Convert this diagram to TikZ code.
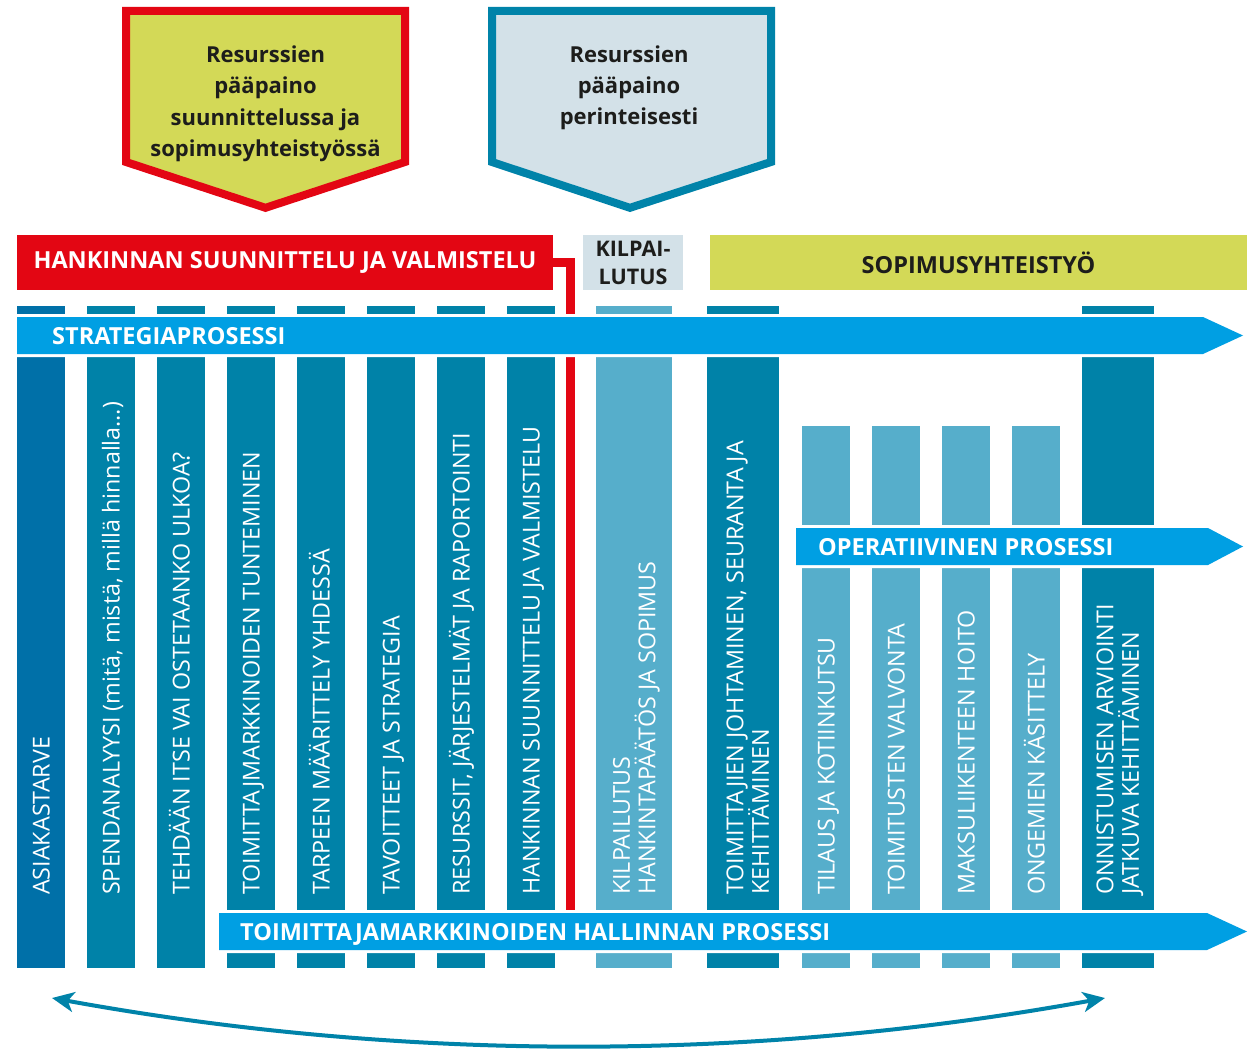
\documentclass[tikz,border=0pt]{standalone}
\usepackage{fontspec}
\setmainfont{Open Sans}
\usetikzlibrary{arrows.meta}
\definecolor{tred}{HTML}{E30613}
\definecolor{tlime}{HTML}{D3D957}
\definecolor{tpale}{HTML}{D3E1E8}
\definecolor{tborder}{HTML}{0083A9}
\definecolor{tdark}{HTML}{0082A8}
\definecolor{tdarker}{HTML}{0070A8}
\definecolor{tlight}{HTML}{56AECB}
\definecolor{tarrow}{HTML}{009FE3}
\definecolor{tink}{HTML}{1D1D1B}
\begin{document}
\begin{tikzpicture}[x=1pt,y=-1pt,
  bar/.style={inner sep=0pt, outer sep=0pt, anchor=north west, draw=none},
  coltext/.style={text=white, font=\fontsize{23.3}{25.5}\selectfont, inner sep=0pt, rotate=90, align=left},
  headtext/.style={font=\bfseries\fontsize{23.5}{28}\selectfont},
  arrowtext/.style={text=white, font=\bfseries\fontsize{23.5}{28}\selectfont, inner sep=0pt, anchor=base west},
  procarrow/.style={fill=tarrow, preaction={draw=white, line width=6pt, line join=miter}},
  pent/.style={line width=8pt, line join=miter},
  penttext/.style={text=tink, font=\bfseries\fontsize{22}{31.5}\selectfont, align=center, inner sep=0pt},
]
\useasboundingbox (0,0) rectangle (1252,1049);

% pentagons
\draw[pent, draw=tred, fill=tlime] (126,11) -- (405,11) -- (405,162) -- (265.5,207.8) -- (126,162) -- cycle;
\node[penttext] (p1) at (265.5,104) {Resurssien\\pääpaino\\suunnittelussa ja\\sopimusyhteistyössä};
\draw[pent, draw=tborder, fill=tpale] (492,11) -- (771,11) -- (771,162) -- (630,207.8) -- (492,162) -- cycle;
\node[penttext, font=\bfseries\fontsize{22}{31}\selectfont] (p2) at (629,87.5) {Resurssien\\pääpaino\\perinteisesti};

% header boxes
\node[bar, fill=tred, minimum width=536pt, minimum height=55pt, headtext, text=white] (h1) at (17,235) {HANKINNAN SUUNNITTELU JA VALMISTELU};
\node[bar, fill=tpale, minimum width=100pt, minimum height=55pt, align=center, text=tink, font=\bfseries\fontsize{21.5}{28}\selectfont] (h2) at (583,235) {KILPAI-\\LUTUS};
\node[bar, fill=tlime, minimum width=537pt, minimum height=55pt, headtext, text=tink] (h3) at (710,235) {SOPIMUSYHTEISTYÖ};

% columns
\node[bar, fill=tdarker, minimum width=48pt, minimum height=662pt] (c1) at (17,306) {};
\node[bar, fill=tdark, minimum width=48pt, minimum height=662pt] (c2) at (87,306) {};
\node[bar, fill=tdark, minimum width=48pt, minimum height=662pt] (c3) at (157,306) {};
\node[bar, fill=tdark, minimum width=48pt, minimum height=662pt] (c4) at (227,306) {};
\node[bar, fill=tdark, minimum width=48pt, minimum height=662pt] (c5) at (297,306) {};
\node[bar, fill=tdark, minimum width=48pt, minimum height=662pt] (c6) at (367,306) {};
\node[bar, fill=tdark, minimum width=48pt, minimum height=662pt] (c7) at (437,306) {};
\node[bar, fill=tdark, minimum width=48pt, minimum height=662pt] (c8) at (507,306) {};
\node[bar, fill=tlight, minimum width=76pt, minimum height=662pt] (c9) at (596,306) {};
\node[bar, fill=tdark, minimum width=72pt, minimum height=662pt] (c10) at (707,306) {};
\node[bar, fill=tlight, minimum width=48pt, minimum height=542pt] (c11) at (802,426) {};
\node[bar, fill=tlight, minimum width=48pt, minimum height=542pt] (c12) at (872,426) {};
\node[bar, fill=tlight, minimum width=48pt, minimum height=542pt] (c13) at (942,426) {};
\node[bar, fill=tlight, minimum width=48pt, minimum height=542pt] (c14) at (1012,426) {};
\node[bar, fill=tdark, minimum width=72pt, minimum height=662pt] (c15) at (1082,306) {};

% red divider from header
\coordinate (rbend) at (570,262);
\coordinate (rend) at (570,910);
\draw[tred, line width=9pt, line join=miter] (h1.east |- rbend) -- (rbend) -- (rend);

% process arrows
\path[procarrow] (17,317) -- (1203,317) -- (1243,335.5) -- (1203,354) -- (17,354) -- cycle;
\path[procarrow] (796,528) -- (1208,528) -- (1243,546.5) -- (1208,565) -- (796,565) -- cycle;
\path[procarrow] (219,913) -- (1207,913) -- (1247,931.5) -- (1207,950) -- (219,950) -- cycle;
\node[arrowtext] (a1) at (52,344) {STRATEGIAPROSESSI};
\node[arrowtext] (a2) at (818,555) {OPERATIIVINEN PROSESSI};
\node[arrowtext] (a3) at (240,940) {TOIMITTAJAMARKKINOIDEN HALLINNAN PROSESSI};

% column texts
\node[coltext, anchor=base west] (t1) at (49.5,895) {ASIAKASTARVE};
\node[coltext, anchor=base west] (t2) at (119.5,895) {SPENDANALYYSI (mitä, mistä, millä hinnalla…)};
\node[coltext, anchor=base west] (t3) at (189.5,895) {TEHDÄÄN ITSE VAI OSTETAANKO ULKOA?};
\node[coltext, anchor=base west] (t4) at (259.5,895) {TOIMITTAJMARKKINOIDEN TUNTEMINEN};
\node[coltext, anchor=base west] (t5) at (329.5,895) {TARPEEN MÄÄRITTELY YHDESSÄ};
\node[coltext, anchor=base west] (t6) at (399.5,895) {TAVOITTEET JA STRATEGIA};
\node[coltext, anchor=base west] (t7) at (469.5,895) {RESURSSIT, JÄRJESTELMÄT JA RAPORTOINTI};
\node[coltext, anchor=base west] (t8) at (539.5,895) {HANKINNAN SUUNNITTELU JA VALMISTELU};
\node[coltext, anchor=south west] (t9) at (660,895) {KILPAILUTUS\\HANKINTAPÄÄTÖS JA SOPIMUS};
\node[coltext, anchor=south west] (t10) at (769,895) {TOIMITTAJIEN JOHTAMINEN, SEURANTA JA\\KEHITTÄMINEN};
\node[coltext, anchor=base west] (t11) at (834.5,895) {TILAUS JA KOTIINKUTSU};
\node[coltext, anchor=base west] (t12) at (904.5,895) {TOIMITUSTEN VALVONTA};
\node[coltext, anchor=base west] (t13) at (974.5,895) {MAKSULIIKENTEEN HOITO};
\node[coltext, anchor=base west] (t14) at (1044.5,895) {ONGEMIEN KÄSITTELY};
\node[coltext, anchor=south west] (t15) at (1143.5,895) {ONNISTUMISEN ARVIOINTI\\JATKUVA KEHITTÄMINEN};

% bottom double arrow
\coordinate (bl) at (52,998);
\coordinate (br) at (1105,998);
\draw[tborder, line width=4pt, {Stealth[length=22pt,width=20pt,inset=6pt]}-{Stealth[length=22pt,width=20pt,inset=6pt]}]
  (bl) .. controls (403,1062) and (754,1062) .. (br);
\end{tikzpicture}
\end{document}
